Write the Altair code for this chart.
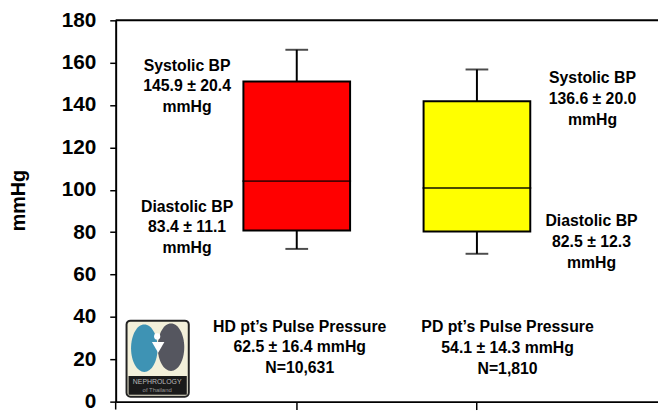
import altair as alt
import pandas as pd

# ---------------- data ----------------
categories = ["HD", "PD"]
whisker_low = [72.1, 69.8]
box_low = [80.8, 80.3]
median = [104.1, 100.9]
box_high = [151.1, 141.8]
whisker_high = [166.1, 156.8]
box_colors = ["#FF0000", "#FFFF00"]

y_ticks = [0, 20, 40, 60, 80, 100, 120, 140, 160, 180]

systolic_text = [["Systolic BP", "145.9 ± 20.4", "mmHg"],
                 ["Systolic BP", "136.6 ± 20.0", "mmHg"]]
diastolic_text = [["Diastolic BP", "83.4 ± 11.1", "mmHg"],
                  ["Diastolic BP", "82.5 ± 12.3", "mmHg"]]
pulse_text = [["HD pt’s Pulse Pressure", "62.5 ± 16.4 mmHg", "N=10,631"],
              ["PD pt’s Pulse Pressure", "54.1 ± 14.3 mmHg", "N=1,810"]]

# ---------------- layout / style ----------------
W, H = 549, 386
FONT = "Liberation Sans"

df = pd.DataFrame({
    "cat": categories, "wl": whisker_low, "bl": box_low, "med": median,
    "bh": box_high, "wh": whisker_high, "col": box_colors,
})

xscale = alt.Scale(domain=categories, paddingOuter=0.505, paddingInner=0)
xaxis = alt.Axis(labels=False, title=None, tickSize=8, tickWidth=1.5,
                 tickColor="black", domainColor="black", domainWidth=2,
                 grid=False)
yscale = alt.Scale(domain=[0, 180], nice=False, zero=True)
yaxis = alt.Axis(values=y_ticks, title="mmHg", grid=False, tickSize=6,
                 tickWidth=1.5, tickColor="black", domainColor="black",
                 domainWidth=2, labelFont=FONT, labelFontSize=21,
                 labelFontWeight="bold", labelColor="black", labelPadding=14,
                 titleFont=FONT, titleFontSize=20, titleFontWeight="bold",
                 titleColor="black", titlePadding=33, titleY=182)


def X():
    return alt.X("cat:N", scale=xscale, axis=xaxis)


def Y(field):
    return alt.Y(field, scale=yscale, axis=yaxis)


base = alt.Chart(df)

whisk_lo = base.mark_rule(color="black", strokeWidth=2).encode(
    x=X(), y=Y("wl:Q"), y2="bl:Q")
whisk_hi = base.mark_rule(color="black", strokeWidth=2).encode(
    x=X(), y=Y("bh:Q"), y2="wh:Q")
caps_lo = base.mark_tick(color="black", size=23, thickness=2).encode(
    x=X(), y=Y("wl:Q"))
caps_hi = base.mark_tick(color="black", size=23, thickness=2).encode(
    x=X(), y=Y("wh:Q"))
boxes = base.mark_bar(width=108, stroke="black", strokeWidth=2,
                      opacity=1).encode(
    x=X(), y=Y("bl:Q"), y2="bh:Q",
    color=alt.Color("col:N", scale=None, legend=None))
meds = base.mark_tick(color="black", size=110, thickness=2).encode(
    x=X(), y=Y("med:Q"))

top_border = alt.Chart(alt.Data(values=[{}])).mark_rule(
    color="black", strokeWidth=2).encode(y=alt.datum(180, scale=yscale))
left_ext = alt.Chart(alt.Data(values=[{}])).mark_rule(
    color="black", strokeWidth=1.5).encode(
    x=alt.value(0), y=alt.value(H), y2=alt.value(H + 8))


def text_layer(cat, anchor, lines, dx, dy):
    d = pd.DataFrame({"cat": [cat], "v": [anchor], "t": ["\n".join(lines)]})
    return alt.Chart(d).mark_text(
        dx=dx, dy=dy, lineBreak="\n", lineHeight=21, fontSize=16,
        fontWeight="bold", font=FONT, align="center", baseline="middle",
        color="black").encode(x=X(), y=Y("v:Q"), text="t:N")


texts = [
    text_layer(categories[0], box_high[0], systolic_text[0], -111, -16),
    text_layer(categories[0], median[0], diastolic_text[0], -111, 26),
    text_layer(categories[1], box_high[1], systolic_text[1], 117, -23),
    text_layer(categories[1], median[1], diastolic_text[1], 116, 34),
    text_layer(categories[0], 0, pulse_text[0], 3, -76),
    text_layer(categories[1], 0, pulse_text[1], 31, -75),
]

# ---------------- small kidney logo (decoration) ----------------
one = alt.Data(values=[{}])
ellipse = "M0,-1 A0.56,1 0 1,1 0,1 A0.56,1 0 1,1 0,-1 Z"
logo = [
    alt.Chart(one).mark_rect(fill="#F3F0DA", stroke="#222222",
                             strokeWidth=2, cornerRadius=4).encode(
        x=alt.value(11), x2=alt.value(74), y=alt.value(304), y2=alt.value(381)),
    alt.Chart(one).mark_point(shape=ellipse, filled=True, fill="#3E93B4",
                              opacity=1, size=2300).encode(
        x=alt.value(29), y=alt.value(332)),
    alt.Chart(one).mark_point(shape=ellipse, filled=True, fill="#55565F",
                              opacity=1, size=2300).encode(
        x=alt.value(56), y=alt.value(331)),
    alt.Chart(one).mark_point(shape="triangle-down", filled=True,
                              fill="white", opacity=1, size=160).encode(
        x=alt.value(43), y=alt.value(331)),
    alt.Chart(one).mark_point(shape="circle", filled=True, fill="white",
                              opacity=1, size=40).encode(
        x=alt.value(42), y=alt.value(320)),
    alt.Chart(one).mark_rect(fill="#1A1A1A").encode(
        x=alt.value(13), x2=alt.value(72), y=alt.value(360), y2=alt.value(379)),
    alt.Chart(one).mark_text(text="NEPHROLOGY", fontSize=7, color="#BBBBBB",
                             font=FONT).encode(
        x=alt.value(42), y=alt.value(366)),
    alt.Chart(one).mark_text(text="of Thailand", fontSize=6, color="#999999",
                             font=FONT).encode(
        x=alt.value(42), y=alt.value(374)),
]

chart = alt.layer(
    whisk_lo, whisk_hi, caps_lo, caps_hi, boxes, meds,
    top_border, left_ext, *texts, *logo,
).properties(
    width=W, height=H,
    autosize=alt.AutoSizeParams(type="none"),
    padding={"left": 109, "top": 10, "right": 0, "bottom": 8},
    background="white",
).configure_view(stroke=None)

chart.save("out.html", embed_options={"renderer": "svg", "actions": False})
